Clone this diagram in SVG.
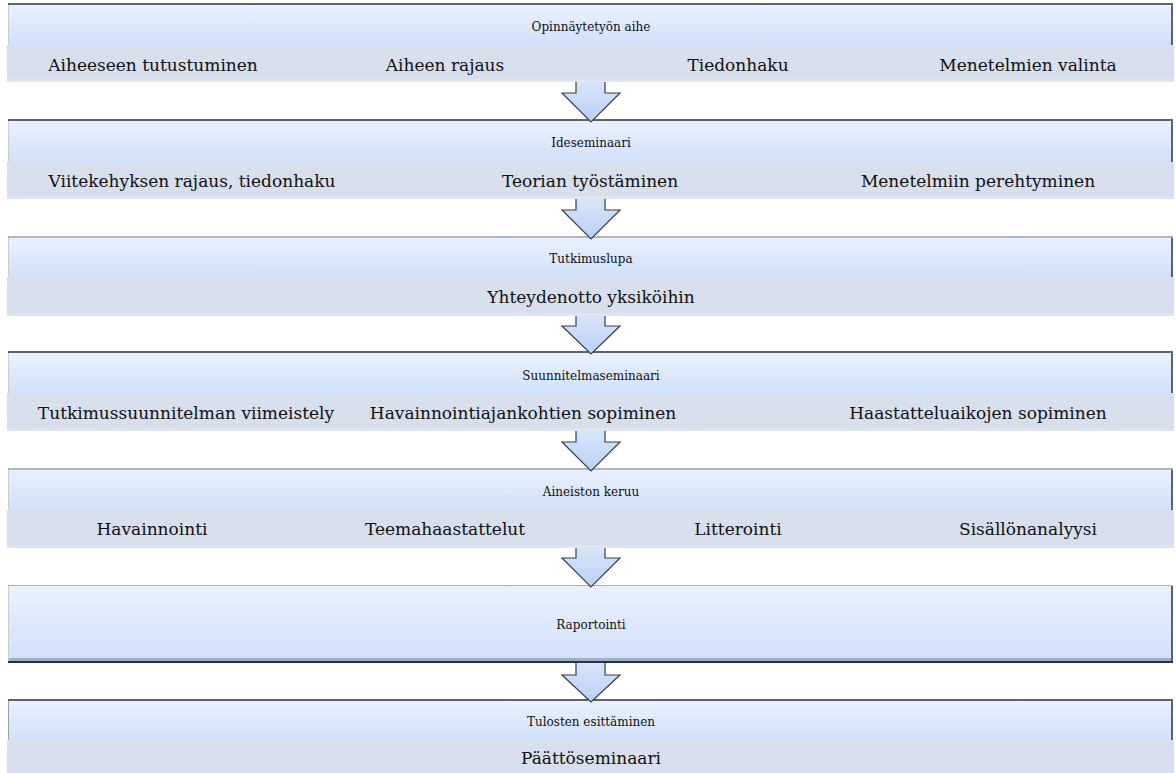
<svg xmlns="http://www.w3.org/2000/svg" width="1176" height="773" viewBox="0 0 1176 773">
<defs>
<linearGradient id="hdr" x1="0" y1="0" x2="0" y2="1">
<stop offset="0" stop-color="#e9f1fd"/>
<stop offset="1" stop-color="#d1e1fa"/>
</linearGradient>
<linearGradient id="arr" x1="0" y1="0" x2="0" y2="1">
<stop offset="0" stop-color="#d6e5fa"/>
<stop offset="1" stop-color="#b9d1f5"/>
</linearGradient>
<style>
.hdr{fill:url(#hdr)}
.sub{fill:#d7deec}
.subedge{fill:#dfe4ef}
.top{stroke:#5f6268;stroke-width:2}
.right{stroke:#5f6268;stroke-width:2}
.left{stroke:#c8ccd4;stroke-width:1}
.ht{font-family:"DejaVu Serif","Liberation Serif",serif;font-size:12px;fill:#111;text-anchor:middle}
.st{font-family:"DejaVu Serif","Liberation Serif",serif;font-size:17px;fill:#111;text-anchor:middle}
.arrow{fill:url(#arr);stroke:#3a3d44;stroke-width:1.2;stroke-linejoin:miter}
</style>
</defs>
<rect width="1176" height="773" fill="#ffffff"/>

<g id="node-opinnaytetyon-aihe">
<rect class="hdr" x="8" y="4" width="1164" height="41"/>
<line class="left" x1="8.5" y1="4" x2="8.5" y2="45"/>
<line class="right" x1="1172" y1="4" x2="1172" y2="45"/>
<line class="top" x1="8" y1="4" x2="1173" y2="4"/>
<rect class="sub" x="7" y="45" width="1167" height="37"/>
<rect class="subedge" x="7" y="79" width="1167" height="3"/>
<text class="ht" x="591" y="31">Opinnäytetyön aihe</text>
<text class="st" x="153" y="71">Aiheeseen tutustuminen</text>
<text class="st" x="445" y="71">Aiheen rajaus</text>
<text class="st" x="738" y="71">Tiedonhaku</text>
<text class="st" x="1028" y="71">Menetelmien valinta</text>
</g>

<g id="node-ideseminaari">
<rect class="hdr" x="8" y="120" width="1164" height="42"/>
<line class="left" x1="8.5" y1="120" x2="8.5" y2="162"/>
<line class="right" x1="1172" y1="120" x2="1172" y2="162"/>
<line class="top" x1="8" y1="120" x2="1173" y2="120"/>
<rect class="sub" x="7" y="162" width="1167" height="37"/>
<rect class="subedge" x="7" y="196" width="1167" height="3"/>
<text class="ht" x="591" y="147">Ideseminaari</text>
<text class="st" x="192" y="187">Viitekehyksen rajaus, tiedonhaku</text>
<text class="st" x="590" y="187">Teorian työstäminen</text>
<text class="st" x="978" y="187">Menetelmiin perehtyminen</text>
</g>

<g id="node-tutkimuslupa">
<rect class="hdr" x="8" y="237" width="1164" height="40"/>
<line class="left" x1="8.5" y1="237" x2="8.5" y2="277"/>
<line class="right" x1="1172" y1="237" x2="1172" y2="277"/>
<line x1="8" y1="237" x2="1173" y2="237" stroke="#9aa0aa" stroke-width="1.5"/>
<rect class="sub" x="7" y="277" width="1167" height="39"/>
<rect class="subedge" x="7" y="313" width="1167" height="3"/>
<text class="ht" x="591" y="263">Tutkimuslupa</text>
<text class="st" x="591" y="303">Yhteydenotto yksiköihin</text>
</g>

<g id="node-suunnitelmaseminaari">
<rect class="hdr" x="8" y="352" width="1164" height="41"/>
<line class="left" x1="8.5" y1="352" x2="8.5" y2="393"/>
<line class="right" x1="1172" y1="352" x2="1172" y2="393"/>
<line class="top" x1="8" y1="352" x2="1173" y2="352"/>
<rect class="sub" x="7" y="393" width="1167" height="38"/>
<rect class="subedge" x="7" y="428" width="1167" height="3"/>
<text class="ht" x="591" y="380">Suunnitelmaseminaari</text>
<text class="st" x="186" y="419">Tutkimussuunnitelman viimeistely</text>
<text class="st" x="523" y="419">Havainnointiajankohtien sopiminen</text>
<text class="st" x="978" y="419">Haastatteluaikojen sopiminen</text>
</g>

<g id="node-aineiston-keruu">
<rect class="hdr" x="8" y="469" width="1164" height="41"/>
<line class="left" x1="8.5" y1="469" x2="8.5" y2="510"/>
<line class="right" x1="1172" y1="469" x2="1172" y2="510"/>
<line x1="8" y1="469" x2="1173" y2="469" stroke="#9aa0aa" stroke-width="1.5"/>
<rect class="sub" x="7" y="510" width="1167" height="38"/>
<rect class="subedge" x="7" y="545" width="1167" height="3"/>
<text class="ht" x="591" y="496">Aineiston keruu</text>
<text class="st" x="152" y="535">Havainnointi</text>
<text class="st" x="445" y="535">Teemahaastattelut</text>
<text class="st" x="738" y="535">Litterointi</text>
<text class="st" x="1028" y="535">Sisällönanalyysi</text>
</g>

<g id="node-raportointi">
<rect class="hdr" x="8" y="585" width="1164" height="77"/>
<rect x="8" y="658" width="1164" height="3" fill="#9eafca"/>
<line class="left" x1="8.5" y1="585" x2="8.5" y2="662"/>
<line class="right" x1="1172" y1="585" x2="1172" y2="663"/>
<line x1="8" y1="585.5" x2="1173" y2="585.5" stroke="#a9b1c2" stroke-width="1.2"/>
<line x1="8" y1="662" x2="1173" y2="662" stroke="#2c3140" stroke-width="2"/>
<text class="ht" x="591" y="629">Raportointi</text>
</g>

<g id="node-tulosten-esittaminen">
<rect class="hdr" x="8" y="700" width="1164" height="40"/>
<line x1="8.5" y1="700" x2="8.5" y2="740" stroke="#9aa0aa" stroke-width="1"/>
<line class="right" x1="1172" y1="700" x2="1172" y2="740"/>
<line class="top" x1="8" y1="700" x2="1173" y2="700"/>
<rect class="sub" x="7" y="740" width="1167" height="33"/>
<text class="ht" x="591" y="726">Tulosten esittäminen</text>
<text class="st" x="591" y="764">Päättöseminaari</text>
</g>

<g id="connectors">
<path class="arrow" d="M576,82 L576,93 L562,93 L591,122 L620,93 L605,93 L605,82"/>
<path class="arrow" d="M576,199 L576,210 L562,210 L591,239 L620,210 L605,210 L605,199"/>
<path class="arrow" d="M576,316 L576,326 L562,326 L591,354 L620,326 L605,326 L605,316"/>
<path class="arrow" d="M576,431 L576,442 L562,442 L591,471 L620,442 L605,442 L605,431"/>
<path class="arrow" d="M576,548 L576,558 L562,558 L591,587 L620,558 L605,558 L605,548"/>
<path class="arrow" d="M576,663 L576,675 L562,675 L591,702 L620,675 L605,675 L605,663"/>
</g>
</svg>
